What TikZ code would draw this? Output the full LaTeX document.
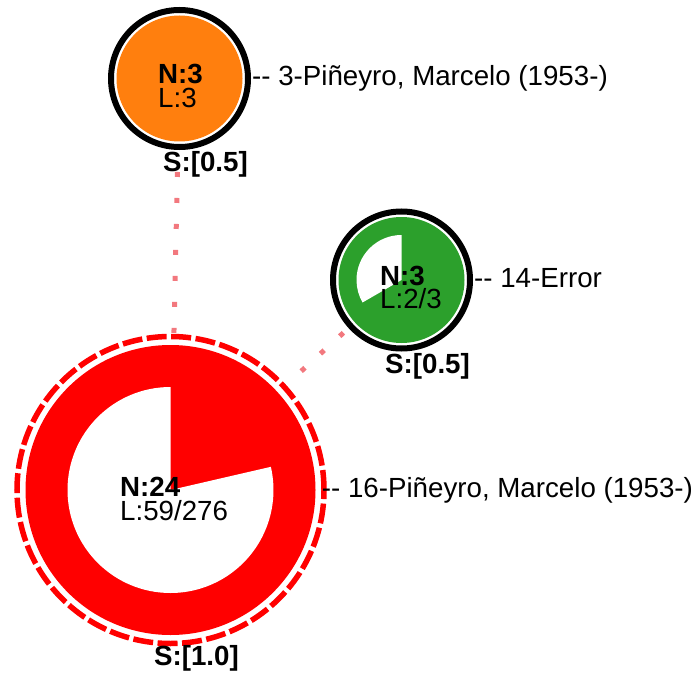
\documentclass[tikz,border=0pt]{standalone}
\usepackage{fontspec}
\setmainfont{Liberation Sans}
\usetikzlibrary{positioning,calc}
\definecolor{nodeorange}{HTML}{FF7F0E}
\definecolor{nodegreen}{HTML}{2CA02C}
\definecolor{linkpink}{RGB}{242,120,126}
\tikzset{
  ring/.style={circle,draw=black,line width=6pt,inner sep=0pt,minimum size=137pt},
  bigring/.style={circle,draw=red,line width=5.5pt,dash pattern=on 20pt off 4.5pt,inner sep=0pt,minimum size=307pt},
  txt/.style={inner sep=0pt,font=\fontsize{27.7pt}{30pt}\selectfont},
  btxt/.style={inner sep=0pt,font=\fontsize{27.7pt}{30pt}\selectfont\bfseries},
  lbl/.style={txt,text height=20pt,text depth=6pt},
  slbl/.style={btxt,text height=20pt,text depth=6pt},
  link/.style={draw=linkpink,line width=5pt,dash pattern=on 5pt off 21pt}
}

\begin{document}
\begin{tikzpicture}[x=1pt,y=1pt]
  \useasboundingbox (0,0) rectangle (699,-682);
  % circles
  \node[ring] (n3) at (179.5,-78.5) {};
  \node[ring] (n14) at (401.5,-280) {};
  \node[bigring] (n16) at (170.5,-490) {};
  % pies
  \fill[nodeorange] (n3.center) circle[radius=63pt];
  \fill[nodegreen] (n14.center) circle[radius=63pt];
  \fill[white] (n14.center) -- ++(90:45pt) arc[start angle=90,end angle=210,radius=45pt] -- cycle;
  \fill[red] (n16.center) circle[radius=145pt];
  \fill[white] (n16.center) -- ++(90:103pt) arc[start angle=90,end angle=373,radius=103pt] -- cycle;
  % links
  \draw[link, shorten <=22pt] (n3) -- (n16);
  \draw[link, shorten <=7pt] (n14) -- (n16);
  % counts
  \node[btxt, anchor=base west] (n3n) at ([shift={(-21.5,-5)}]n3.center) {N:3};
  \node[txt, anchor=base west] (n3l) at ([shift={(-21.5,-29.5)}]n3.center) {L:3};
  \node[btxt, anchor=base west] (n14n) at ([shift={(-21.5,-5)}]n14.center) {N:3};
  \node[txt, anchor=base west] (n14l) at ([shift={(-21.5,-28.5)}]n14.center) {L:2/3};
  \node[btxt, anchor=base west] (n16n) at ([shift={(-50.5,-6.5)}]n16.center) {N:24};
  \node[txt, anchor=base west] (n16l) at ([shift={(-50.5,-30)}]n16.center) {L:59/276};
  % names
  \node[lbl, right=1pt of n3] (n3lbl) {-{}- 3-Piñeyro, Marcelo (1953-)};
  \node[lbl, right=1pt of n14] (n14lbl) {-{}- 14-Error};
  \node[lbl, right=-5pt of n16] (n16lbl) {-{}- 16-Piñeyro, Marcelo (1953-)};
  % sizes
  \node[slbl, below=1.7pt of n3, xshift=26pt] (n3s) {S:[0.5]};
  \node[slbl, below=1.8pt of n14, xshift=26pt] (n14s) {S:[0.5]};
  \node[slbl, below=-1.2pt of n16, xshift=26pt] (n16s) {S:[1.0]};
\end{tikzpicture}
\end{document}
